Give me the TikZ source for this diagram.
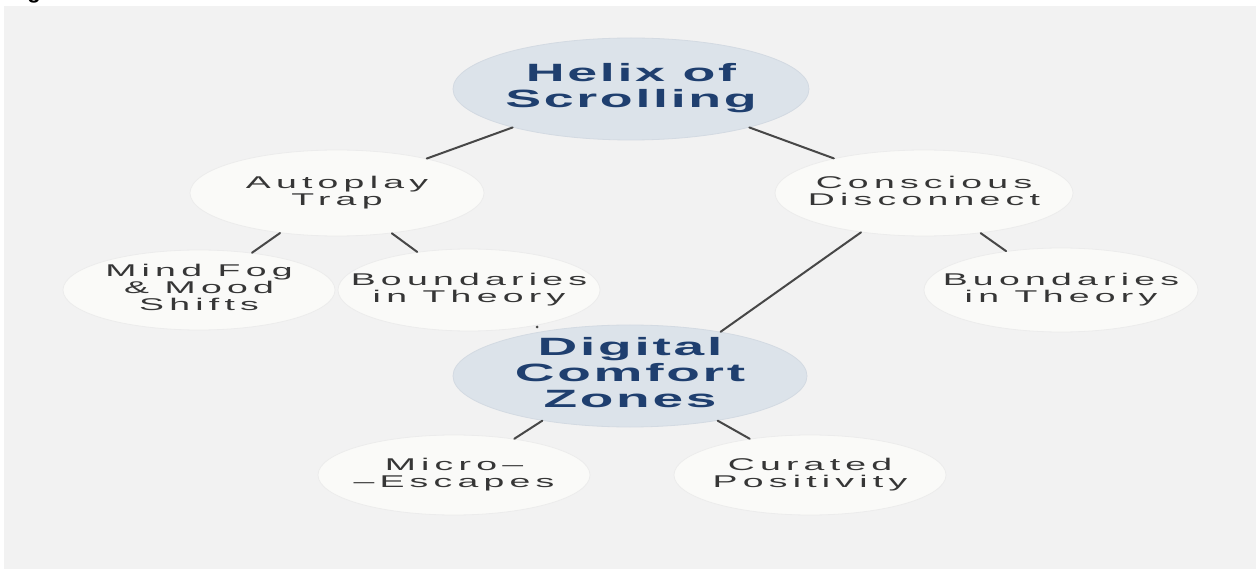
\documentclass[tikz,border=0pt]{standalone}
\usepackage{fontspec}
\usepackage{graphicx}
\setmainfont{Liberation Sans}
\newfontfamily\lblfont{Liberation Sans}[LetterSpace=14]
\newfontfamily\ttlfont{Liberation Sans}[LetterSpace=5]
\usetikzlibrary{shapes.geometric}
\definecolor{helixPaper}{HTML}{F2F2F2}
\definecolor{helixHub}{HTML}{DCE3EA}
\definecolor{helixHubEdge}{HTML}{D3DAE2}
\definecolor{helixLeaf}{HTML}{FAFAF8}
\definecolor{helixLeafEdge}{HTML}{ECECEC}
\definecolor{helixNavy}{HTML}{1F3F6F}
\definecolor{helixInk}{HTML}{363636}
\definecolor{helixLine}{HTML}{474747}
\newcommand{\widetext}[2]{\makebox[0pt]{\raisebox{\dimexpr(\depth-\height)/2\relax}[0pt][0pt]{\scalebox{#1}[1]{\begin{tabular}{@{}c@{}}#2\end{tabular}}}}}
\begin{document}
\begin{tikzpicture}[x=1pt,y=-1pt,line cap=round,line join=round]
\useasboundingbox (0,0) rectangle (1256,569);
\path[fill=white] (0,0) rectangle (1256,569);
\path[fill=helixPaper] (4,6) rectangle (1256,569);
\node[anchor=base,text=black,font=\bfseries\fontsize{22}{22}\selectfont] (gcut) at (34,-1) {g};
\tikzset{hub/.style={ellipse,fill=helixHub,draw=helixHubEdge,line width=0.8pt,inner sep=0pt,text=helixNavy,font=\ttlfont\bfseries\fontsize{25}{26}\selectfont},leaf/.style={ellipse,fill=helixLeaf,draw=helixLeafEdge,line width=0.8pt,inner sep=0pt,text=helixInk,font=\lblfont\fontsize{17}{16}\selectfont},link/.style={draw=helixLine,line width=2pt}}
\node[hub,minimum width=356pt,minimum height=102pt] (helix) at (631,89) {\widetext{2.15}{Helix of\\Scrolling}};
\node[leaf,minimum width=294pt,minimum height=86pt] (auto) at (337,193) {\widetext{2.2}{Autoplay\\Trap}};
\node[leaf,minimum width=298pt,minimum height=86pt] (cons) at (924,193) {\widetext{2.2}{Conscious\\Disconnect}};
\node[leaf,minimum width=272pt,minimum height=80pt] (mind) at (199,290) {\widetext{2.2}{Mind Fog\\\& Mood\\Shifts}};
\node[leaf,minimum width=262pt,minimum height=82pt] (bnd) at (469,290) {\widetext{2.2}{Boundaries\\in Theory}};
\node[leaf,minimum width=274pt,minimum height=84pt] (buond) at (1061,290) {\widetext{2.2}{Buondaries\\in Theory}};
\node[hub,minimum width=354pt,minimum height=102pt] (dig) at (630,376) {\widetext{2.2}{Digital\\Comfort\\Zones}};
\node[leaf,minimum width=272pt,minimum height=80pt] (micro) at (454,475) {\widetext{2.2}{Micro–\\–Escapes}};
\node[leaf,minimum width=272pt,minimum height=80pt] (cur) at (810,475) {\widetext{2.2}{Curated\\Positivity}};
\draw[link] (helix.198) -- (auto.21); \draw[link] (helix.342) -- (cons.159);
\draw[link] (auto) -- (mind); \draw[link] (auto) -- (bnd);
\draw[link] (cons.212) -- (dig.26); \draw[link] (cons) -- (buond);
\draw[link] (dig.207) -- (micro.31); \draw[link] (dig.333) -- (cur.149);
\fill[helixLine] (537,327) circle (1.5);
\end{tikzpicture}
\end{document}
